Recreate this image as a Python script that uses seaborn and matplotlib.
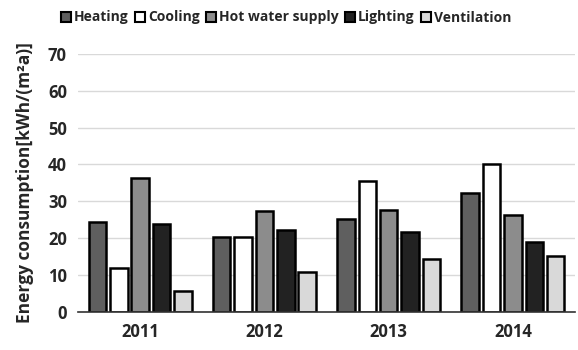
import matplotlib
matplotlib.use("Agg")
import matplotlib.pyplot as plt
import seaborn as sns
import pandas as pd
from matplotlib.patches import Patch

years = ["2011", "2012", "2013", "2014"]
categories = ["Heating", "Cooling", "Hot water supply", "Lighting", "Ventilation"]
heating = [24.3, 20.4, 25.2, 32.2]
cooling = [12.0, 20.2, 35.5, 40.1]
hot_water = [36.4, 27.4, 27.7, 26.4]
lighting = [23.9, 22.2, 21.8, 18.9]
ventilation = [5.7, 10.7, 14.3, 15.2]

colors = ["#5f5f5f", "#ffffff", "#8c8c8c", "#222222", "#d9d9d9"]

rows = []
for cat, vals in zip(categories, [heating, cooling, hot_water, lighting, ventilation]):
    for y, v in zip(years, vals):
        rows.append({"Year": y, "Category": cat, "Value": v})
df = pd.DataFrame(rows)

sns.set_style("white")
plt.rcParams['font.family'] = ['Open Sans', 'DejaVu Sans']

fig = plt.figure(figsize=(5.78, 3.5), dpi=100)
ax = fig.add_axes([0.135, 0.109, 0.86, 0.737])

sns.barplot(data=df, x="Year", y="Value", hue="Category", hue_order=categories,
            order=years, palette=colors, width=0.86, gap=0.18,
            edgecolor="black", linewidth=1.8, ax=ax, legend=False)

ax.set_ylim(0, 70)
ax.set_yticks(range(0, 71, 10))
ax.yaxis.grid(True, color="#d9d9d9", linewidth=1)
ax.set_axisbelow(True)
for s in ["left", "right", "top"]:
    ax.spines[s].set_visible(False)
ax.spines["bottom"].set_color("#333333")
ax.spines["bottom"].set_linewidth(1.2)
ax.tick_params(axis="both", length=0, labelsize=12, pad=8)
for lab in ax.get_xticklabels() + ax.get_yticklabels():
    lab.set_fontweight("bold")
ax.set_xlabel("")
ax.set_ylabel("Energy consumption[kWh/(m²a)]", fontsize=12.5, fontweight="bold", labelpad=10)

handles = [Patch(facecolor=c, edgecolor="black", linewidth=1.5) for c in colors]
fig.legend(handles, categories, loc="center", bbox_to_anchor=(0.495, 0.95), ncol=5,
           frameon=False, prop={"weight": "bold", "size": 10}, handlelength=0.75,
           handleheight=0.75, handletextpad=0.2, columnspacing=0.45, borderaxespad=0)

fig.savefig("out.png", dpi=100)
